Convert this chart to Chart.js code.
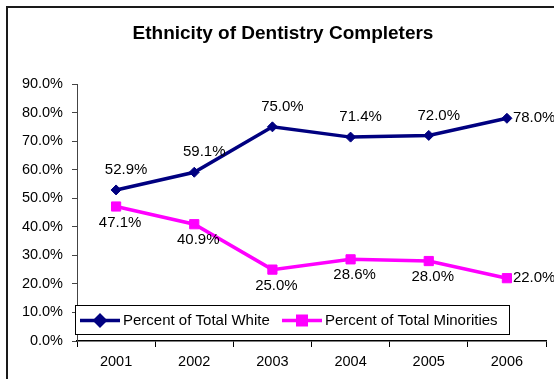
<!DOCTYPE html>
<html>
<head>
<meta charset="utf-8">
<script src="https://cdn.jsdelivr.net/npm/chart.js@4.4.1/dist/chart.umd.min.js"></script>
<style>
  html, body { margin: 0; padding: 0; background: #fff; }
  #chart { display: block; }
</style>
</head>
<body>
<canvas id="chart" width="554" height="379"></canvas>
<script>
// chart data
const years = ['2001', '2002', '2003', '2004', '2005', '2006'];
const whitePct = [52.9, 59.1, 75.0, 71.4, 72.0, 78.0];
const minorityPct = [47.1, 40.9, 25.0, 28.6, 28.0, 22.0];
const seriesNames = ['Percent of Total White', 'Percent of Total Minorities'];
const chartTitle = 'Ethnicity of Dentistry Completers';

const NAVY = '#000080';
const PINK = '#FF00FF';
const FONT = 'Arial, "Liberation Sans", sans-serif';

// frame + title + value labels + legend box drawn on top of the chart
const decorations = {
    id: 'decorations',
    beforeDraw(chart) {
        const ctx = chart.ctx;
        ctx.save();
        ctx.fillStyle = '#fff';
        ctx.fillRect(0, 0, chart.width, chart.height);
        ctx.strokeStyle = '#1a1a1a';
        ctx.lineWidth = 2;
        ctx.strokeRect(7, 7, 700, 500);
        ctx.fillStyle = '#000';
        ctx.font = 'bold 19px ' + FONT;
        ctx.textAlign = 'center';
        ctx.textBaseline = 'middle';
        ctx.fillText(chartTitle, 283, 34);
        ctx.restore();
    },
    afterDatasetsDraw(chart) {
        const ctx = chart.ctx;
        ctx.save();
        ctx.font = '15px ' + FONT;
        ctx.fillStyle = '#000';
        ctx.textBaseline = 'middle';
        chart.data.datasets.forEach((ds, di) => {
            const meta = chart.getDatasetMeta(di);
            meta.data.forEach((pt, i) => {
                const txt = ds.data[i].toFixed(1) + '%';
                if (i === ds.data.length - 1) {
                    ctx.textAlign = 'left';
                    ctx.fillText(txt, pt.x + 6, pt.y);
                } else if (di === 0) {
                    ctx.textAlign = 'center';
                    ctx.fillText(txt, pt.x + 10, pt.y - 20);
                } else {
                    ctx.textAlign = 'center';
                    ctx.fillText(txt, pt.x + 4, pt.y + 16);
                }
            });
        });

        // legend box
        const bx = 75, by = 305, bw = 434, bh = 29;
        ctx.fillStyle = '#fff';
        ctx.fillRect(bx, by, bw, bh);
        ctx.strokeStyle = '#000';
        ctx.lineWidth = 1;
        ctx.strokeRect(bx + 0.5, by + 0.5, bw, bh);
        const cy = by + bh / 2 + 1;
        const items = [
            { x: 80, color: NAVY, style: 'rectRot', r: 5 },
            { x: 282, color: PINK, style: 'rect', r: 6 }
        ];
        items.forEach((it, k) => {
            ctx.strokeStyle = it.color;
            ctx.lineWidth = 3.5;
            ctx.beginPath();
            ctx.moveTo(it.x, cy);
            ctx.lineTo(it.x + 40, cy);
            ctx.stroke();
            ctx.fillStyle = it.color;
            Chart.helpers.drawPoint(ctx, { pointStyle: it.style, radius: it.r, borderWidth: 1 }, it.x + 20, cy);
            ctx.fill();
            ctx.fillStyle = '#000';
            ctx.textAlign = 'left';
            ctx.textBaseline = 'middle';
            ctx.font = '15px ' + FONT;
            ctx.fillText(seriesNames[k], it.x + 43, cy);
        });
        ctx.restore();
    }
};

new Chart(document.getElementById('chart'), {
    type: 'line',
    data: {
        labels: years,
        datasets: [
            {
                label: seriesNames[0],
                data: whitePct,
                borderColor: NAVY,
                backgroundColor: NAVY,
                borderWidth: 3.5,
                pointStyle: 'rectRot',
                pointRadius: 5,
                pointBorderWidth: 1,
                tension: 0
            },
            {
                label: seriesNames[1],
                data: minorityPct,
                borderColor: PINK,
                backgroundColor: PINK,
                borderWidth: 3.5,
                pointStyle: 'rect',
                pointRadius: 6.5,
                pointBorderWidth: 1,
                tension: 0
            }
        ]
    },
    options: {
        responsive: false,
        animation: false,
        layout: { padding: { left: 0, right: 8, top: 84, bottom: 0 } },
        plugins: {
            legend: { display: false },
            title: { display: false },
            tooltip: { enabled: false }
        },
        scales: {
            x: {
                offset: true,
                grid: { offset: true, drawOnChartArea: false, tickLength: 6, color: '#000' },
                border: { color: '#000', width: 1.5 },
                ticks: { color: '#000', font: { family: FONT, size: 14.5 }, padding: 6, maxRotation: 0 },
                afterFit(scale) { scale.height = 38; }
            },
            y: {
                min: 0,
                max: 90,
                grid: { drawOnChartArea: false, tickLength: 5, color: '#444' },
                border: { color: '#444', width: 1 },
                ticks: {
                    stepSize: 10,
                    color: '#000',
                    padding: 9,
                    font: { family: FONT, size: 14.5 },
                    callback: v => v.toFixed(1) + '%'
                },
                afterFit(scale) { scale.width = 77; }
            }
        }
    },
    plugins: [decorations]
});
</script>
</body>
</html>
